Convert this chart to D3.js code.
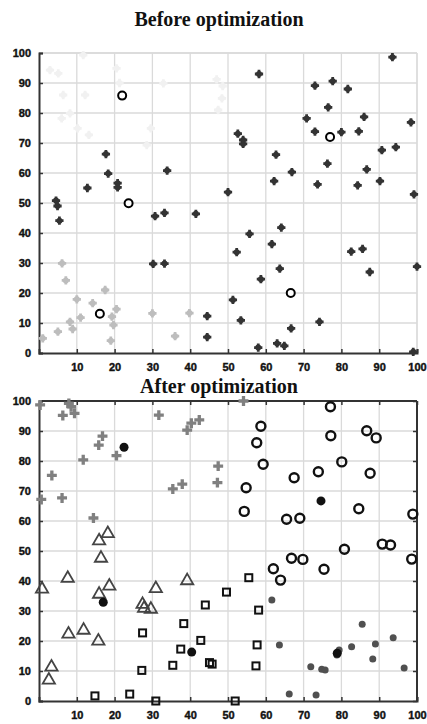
<!DOCTYPE html>
<html>
<head>
<meta charset="utf-8">
<script src="https://cdn.jsdelivr.net/npm/d3@7"></script>
<style>
  body { margin: 0; background: #fff; }
  .tick text { font-family: "Liberation Sans", Arial, sans-serif; font-weight: bold; font-size: 11px; fill: #111; stroke: #111; stroke-width: 0.4px; }
  .title { font-family: "Liberation Serif", "Times New Roman", serif; font-weight: bold; font-size: 20px; fill: #111; }
</style>
</head>
<body>
<div id="chart"></div>
<script>
// ---- data: before optimization ----
var beforeDark = [
  [93.5,98.6],[58.2,93],[73,89.1],[77.7,90.6],[81.7,88],[76.5,81.9],[70.8,78.2],[86,78.7],
  [98.4,76.9],[73,73.8],[80,73.6],[84.6,73.9],[52.6,73.1],[54,71],[54,69.7],[17.7,66.3],
  [62.7,66.1],[90.7,67.6],[94.4,68.6],[76.3,63.1],[18.3,59.8],[33.9,60.8],[66.9,60.3],
  [86.7,61.2],[62.2,57.3],[90.2,57.3],[73.7,56.2],[84.3,55.9],[99.2,52.9],[12.8,55],
  [20.8,56.6],[20.8,55.2],[4.5,50.8],[4.9,49],[5.4,44.1],[50,53.6],[30.7,45.6],[33.2,46.7],
  [41.5,46.4],[55.7,39.7],[64.1,41.8],[52.3,33.6],[61.6,36.3],[63.7,28.1],[58.7,24.6],
  [82.6,33.8],[85.6,34.7],[87.5,27],[100,28.8],[30.2,29.7],[33.2,29.8],[51.3,17.7],
  [53.4,10.9],[44.5,12.3],[44.5,5.3],[58,1.8],[63,3.2],[64.9,2.4],[66.7,8.2],[74.2,10.4],
  [99,0.4]
];
var beforeGrey = [
  [6.1,29.9],[7.1,24.2],[10,17.9],[11,11.8],[14.2,16.6],[17.5,21],[8.2,10.4],[8.9,8],
  [5,7.1],[1,4.9],[19.3,12.1],[19.7,9.3],[20.5,14.6],[19,4.1],[30,13.2],[39.8,13.3],[36,5.6]
];
var beforeFaint = [
  [2.9,94.3],[5.1,93.2],[11.7,99.3],[6.4,86],[12.2,86],[8.2,79.9],[6,78.2],[10.2,74.9],
  [13.2,72.7],[20.5,94.9],[21.3,90],[29.6,74.9],[28.5,69.3],[32.9,89.9],[47,91.2],
  [48.6,89],[48.4,84.9],[47.4,81]
];
var beforeCenters = [[22,85.8],[77,72],[23.7,49.9],[16.1,13.1],[66.6,20]];

// ---- data: after optimization ----
var afterCross = [
  [0.3,98.7],[7.9,99.2],[8.5,98.1],[6.3,95.2],[9.4,95.9],[16.8,88.3],[15.8,85.3],[11.7,80.4],
  [20.5,81.8],[3.4,75.2],[0.6,67.2],[6.1,67.7],[14.4,61],[31.7,95.3],[39.2,90.3],[40.3,92.6],
  [42.4,93.7],[47.4,78.3],[47.2,72.8],[35.4,70.7],[37.9,72.3],[54.1,100]
];
var afterTriangle = [
  [0.8,37.3],[7.6,40.9],[39.2,40.1],[16.4,47.6],[15.9,53.4],[18.2,55.8],[18.6,38.3],
  [15.9,35.6],[30.9,37.5],[27.4,32.2],[27.8,30.9],[29.6,30.6],[7.8,22.3],[11.8,23.6],
  [15.7,20],[3.3,11.3],[2.6,7]
];
var afterSquare = [
  [55.5,41.1],[49.6,36.3],[44,32],[58.1,30.3],[38.3,25.8],[27.4,22.7],[42.8,20.2],[37.5,17.3],
  [57.7,18.7],[35.4,11.9],[57.4,11.7],[45.1,12.8],[45.8,12.3],[27.2,10.2],[14.8,1.7],
  [24,2.3],[30.9,0],[51.9,0]
];
var afterCircle = [
  [77.1,98.1],[58.7,91.6],[57.6,86.1],[77.2,88.4],[86.7,90.1],[89.2,87.7],[59.3,78.9],
  [80.1,79.7],[87.6,75.9],[73.9,76.4],[67.5,74.4],[54.8,71.1],[54.3,63.2],[65.5,60.6],
  [69,60.9],[84.6,64.1],[98.9,62.3],[90.8,52.3],[93,52],[80.8,50.6],[66.8,47.6],[69.8,47.2],
  [98.6,47.3],[62,44.1],[75.4,43.9],[63.9,40.3]
];
var afterDot = [
  [61.6,33.7],[63.6,18.7],[85.5,25.6],[93.7,21.1],[89,19],[82.7,18.1],[79.4,17],[78.8,15.3],
  [88.3,14],[71.9,11.4],[74.8,10.6],[75.7,10.3],[96.6,11],[66.2,2.3],[73.3,2]
];
var afterCenters = [[22.5,84.6],[74.6,66.7],[17,32.9],[40.4,16.3],[78.9,15.9]];

var xTicks = [10,20,30,40,50,60,70,80,90,100];
var yTicks = [0,10,20,30,40,50,60,70,80,90,100];

var W = 427, H = 724;
var svg = d3.select("#chart").append("svg").attr("width", W).attr("height", H);

var x = d3.scaleLinear().domain([0,100]).range([39,417]);

function panel(top, title, titleY, framed){
  var y = d3.scaleLinear().domain([0,100]).range([top+300, top]);
  var g = svg.append("g");

  svg.append("text").attr("class","title")
    .attr("x", 219).attr("y", titleY).attr("text-anchor","middle").text(title);

  // grid
  g.selectAll(".vg").data(xTicks).enter().append("line")
    .attr("x1", d => x(d)).attr("x2", d => x(d))
    .attr("y1", y(0)).attr("y2", y(100))
    .attr("stroke", "#dadada").attr("stroke-width", 1.3);
  g.selectAll(".hg").data(yTicks.slice(1)).enter().append("line")
    .attr("x1", x(0)).attr("x2", x(100))
    .attr("y1", d => y(d)).attr("y2", d => y(d))
    .attr("stroke", "#dadada").attr("stroke-width", 1.3);

  // frame
  var fc = framed ? "#333" : "#dadada";
  g.append("line").attr("x1",x(0)).attr("x2",x(100)).attr("y1",y(100)).attr("y2",y(100))
    .attr("stroke", fc).attr("stroke-width", framed ? 2 : 1.3);
  g.append("line").attr("x1",x(100)).attr("x2",x(100)).attr("y1",y(0)).attr("y2",y(100))
    .attr("stroke", fc).attr("stroke-width", framed ? 2 : 1.3);
  if (framed) {
    g.append("g").attr("transform","translate(0,"+y(100)+")")
      .call(d3.axisBottom(x).tickValues(xTicks).tickSize(4).tickFormat(""))
      .call(a => a.select(".domain").remove())
      .selectAll("line").attr("stroke","#333").attr("stroke-width",1.5);
    g.append("g").attr("transform","translate("+x(100)+",0)")
      .call(d3.axisLeft(y).tickValues(yTicks).tickSize(4).tickFormat(""))
      .call(a => a.select(".domain").remove())
      .selectAll("line").attr("stroke","#333").attr("stroke-width",1.5);
  }

  // axes
  var xa = g.append("g").attr("transform","translate(0,"+y(0)+")")
    .call(d3.axisTop(x).tickValues(xTicks).tickSize(4).tickFormat(""));
  xa.select(".domain").attr("stroke","#333").attr("stroke-width",2);
  xa.selectAll("line").attr("stroke","#333").attr("stroke-width",1.5);
  var xl = g.append("g").attr("transform","translate(0,"+y(0)+")")
    .call(d3.axisBottom(x).tickValues(xTicks).tickSize(0).tickPadding(10));
  xl.select(".domain").remove();

  var ya = g.append("g").attr("transform","translate("+x(0)+",0)")
    .call(d3.axisRight(y).tickValues(yTicks).tickSize(4).tickFormat(""));
  ya.select(".domain").attr("stroke","#333").attr("stroke-width",2);
  ya.selectAll("line").attr("stroke","#333").attr("stroke-width",1.5);
  var yl = g.append("g").attr("transform","translate("+x(0)+",0)")
    .call(d3.axisLeft(y).tickValues(yTicks).tickSize(0).tickPadding(8));
  yl.select(".domain").remove();

  return y;
}

// ---- Before ----
var y1 = panel(53, "Before optimization", 26, false);

function stars(data, color, yS){
  var gg = svg.append("g");
  gg.selectAll("circle").data(data).enter().append("circle")
    .attr("cx", d => x(d[0])).attr("cy", d => yS(d[1])).attr("r", 3).attr("fill", color);
  gg.selectAll("path").data(data).enter().append("path")
    .attr("d", d3.symbol().type(d3.symbolCross).size(38))
    .attr("transform", d => "translate("+x(d[0])+","+yS(d[1])+")")
    .attr("fill", color);
}
stars(beforeFaint, "#f1f1f1", y1);
stars(beforeGrey, "#bdbdbd", y1);
stars(beforeDark, "#333", y1);

svg.append("g").selectAll("circle").data(beforeCenters).enter().append("circle")
  .attr("cx", d => x(d[0])).attr("cy", d => y1(d[1])).attr("r", 4)
  .attr("fill", "#fff").attr("stroke", "#000").attr("stroke-width", 2);

// ---- After ----
var y2 = panel(401, "After optimization", 393, true);

svg.append("g").selectAll("path").data(afterCross).enter().append("path")
  .attr("d", d3.symbol().type(d3.symbolCross).size(55))
  .attr("transform", d => "translate("+x(d[0])+","+y2(d[1])+")")
  .attr("fill", "#808080");

svg.append("g").selectAll("path").data(afterTriangle).enter().append("path")
  .attr("d", d3.symbol().type(d3.symbolTriangle).size(65))
  .attr("transform", d => "translate("+x(d[0])+","+y2(d[1])+")")
  .attr("fill", "none").attr("stroke", "#444").attr("stroke-width", 1.8);

svg.append("g").selectAll("rect").data(afterSquare).enter().append("rect")
  .attr("x", d => x(d[0]) - 3.5).attr("y", d => y2(d[1]) - 3.5)
  .attr("width", 7).attr("height", 7)
  .attr("fill", "none").attr("stroke", "#111").attr("stroke-width", 2);

svg.append("g").selectAll("circle").data(afterCircle).enter().append("circle")
  .attr("cx", d => x(d[0])).attr("cy", d => y2(d[1])).attr("r", 4.5)
  .attr("fill", "none").attr("stroke", "#111").attr("stroke-width", 2.4);

svg.append("g").selectAll("circle").data(afterDot).enter().append("circle")
  .attr("cx", d => x(d[0])).attr("cy", d => y2(d[1])).attr("r", 3.5)
  .attr("fill", "#505050");

svg.append("g").selectAll("circle").data(afterCenters).enter().append("circle")
  .attr("cx", d => x(d[0])).attr("cy", d => y2(d[1])).attr("r", 4.5)
  .attr("fill", "#111");
</script>
</body>
</html>
